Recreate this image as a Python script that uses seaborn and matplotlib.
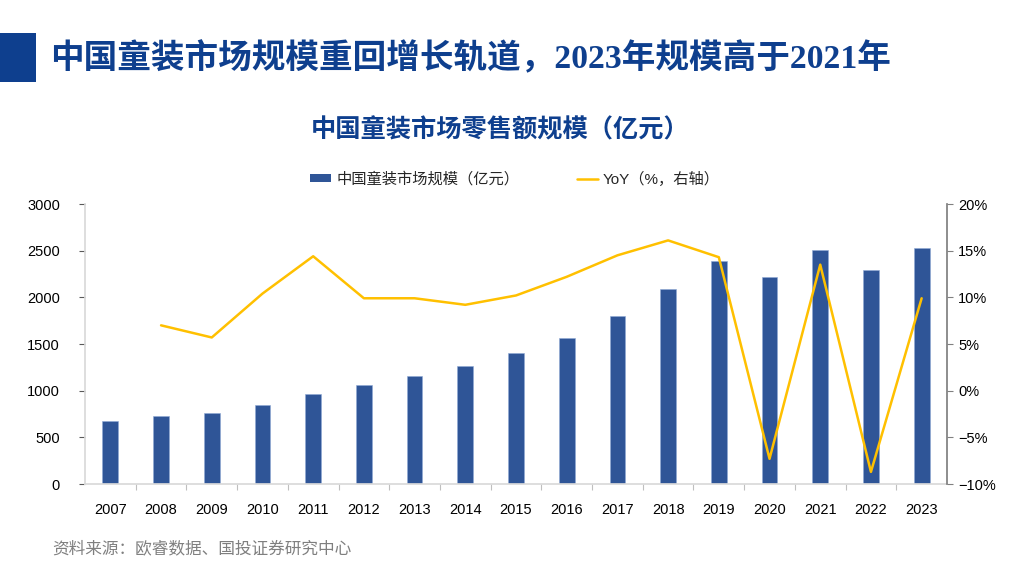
import numpy as np
import pandas as pd
import matplotlib
matplotlib.use("Agg")
import matplotlib.pyplot as plt
from matplotlib.patches import Rectangle, Patch
from matplotlib.lines import Line2D
from matplotlib.ticker import FuncFormatter, FixedLocator
import seaborn as sns

# ---- data ----
years = ["2007", "2008", "2009", "2010", "2011", "2012", "2013", "2014", "2015",
         "2016", "2017", "2018", "2019", "2020", "2021", "2022", "2023"]
market_size = [678, 725, 760, 843, 967, 1060, 1162, 1265, 1403,
               1566, 1800, 2090, 2390, 2215, 2510, 2296, 2525]
yoy = [np.nan, 7.0, 5.7, 10.4, 14.4, 9.9, 9.9, 9.2, 10.2,
       12.2, 14.5, 16.1, 14.3, -7.3, 13.5, -8.7, 9.9]
left_ticks = [0, 500, 1000, 1500, 2000, 2500, 3000]
right_ticks = [-10, -5, 0, 5, 10, 15, 20]

main_title = "中国童装市场规模重回增长轨道，2023年规模高于2021年"
chart_title = "中国童装市场零售额规模（亿元）"
bar_label = "中国童装市场规模（亿元）"
line_label = "YoY（%，右轴）"
source = "资料来源：欧睿数据、国投证券研究中心"

BAR_C = "#2F5597"
LINE_C = "#FFC000"
TITLE_C = "#0E3F8E"

sns.set_theme(style="white")
plt.rcParams["font.family"] = ["Liberation Sans", "Noto Sans CJK SC", "DejaVu Sans"]
plt.rcParams["axes.unicode_minus"] = True

df = pd.DataFrame({"year": years, "size": market_size, "yoy": yoy})
df["pos"] = np.arange(len(years))

fig = plt.figure(figsize=(10.24, 5.76), dpi=100)
ax = fig.add_axes([85 / 1024, 92 / 576, 862 / 1024, 280 / 576])

sns.barplot(data=df, x="year", y="size", color=BAR_C, width=0.31,
            saturation=1, ax=ax, edgecolor="#8FA9D6", linewidth=0.4)
ax.set_xlim(-0.5, len(years) - 0.5)
ax.set_ylim(0, 3000)
ax.set_yticks(left_ticks)
ax.set_xlabel("")
ax.set_ylabel("")

ax2 = ax.twinx()
sns.lineplot(data=df.dropna(), x="pos", y="yoy", color=LINE_C, linewidth=1.8,
             ax=ax2, legend=False)
ax2.set_ylim(-10, 20)
ax2.set_yticks(right_ticks)
ax2.yaxis.set_major_formatter(FuncFormatter(lambda v, p: f"{int(v)}%".replace("-", "\u2212")))
ax2.set_xlim(-0.5, len(years) - 0.5)
ax2.set_ylabel("")
ax2.set_xlabel("")

# spines and ticks
for a in (ax, ax2):
    a.spines["top"].set_visible(False)
ax.spines["left"].set_color("#D9D9D9")
ax.spines["bottom"].set_color("#D9D9D9")
ax.spines["right"].set_visible(False)
ax2.spines["left"].set_visible(False)
ax2.spines["bottom"].set_visible(False)
ax2.spines["right"].set_color("#808080")

ax.tick_params(axis="y", which="major", left=True, length=4, width=0.8, color="#595959",
               labelsize=10.5, labelcolor="black", pad=14)
ax.tick_params(axis="x", which="major", bottom=False, labelsize=10.5, labelcolor="black", pad=8)
ax.xaxis.set_minor_locator(FixedLocator(np.arange(0.5, len(years) - 1, 1.0)))
ax.tick_params(axis="x", which="minor", bottom=True, length=4, width=0.8, color="#BFBFBF")
ax2.tick_params(axis="y", right=True, length=4, width=0.8, color="#808080",
                labelsize=10.5, labelcolor="black", pad=4)
ax.grid(False)
ax2.grid(False)

# legend
handles = [Patch(facecolor=BAR_C, edgecolor="none"),
           Line2D([0], [0], color=LINE_C, linewidth=1.8)]
fig.legend(handles, [bar_label, line_label], loc="center", ncol=2,
           bbox_to_anchor=(0.503, 1 - 179 / 576), frameon=False, fontsize=11,
           handlelength=1.4, handleheight=0.5, handletextpad=0.3, columnspacing=3.8)

# header block and titles
fig.patches.append(Rectangle((0, 1 - 82 / 576), 36 / 1024, 49 / 576,
                             transform=fig.transFigure, facecolor=TITLE_C,
                             edgecolor="none"))
fig.text(50 / 1024, 1 - 58 / 576, main_title, fontsize=24.2, fontweight="bold",
         color=TITLE_C, va="center", ha="left",
         family=["Liberation Serif", "Noto Sans CJK SC"])
fig.text(500 / 1024, 1 - 130 / 576, chart_title, fontsize=18.2, fontweight="bold",
         color=TITLE_C, va="center", ha="center",
         family=["Noto Sans CJK SC", "DejaVu Sans"])
fig.text(52 / 1024, 1 - 549 / 576, source, fontsize=12, color="#7F7F7F",
         va="center", ha="left", family=["Noto Sans CJK SC", "DejaVu Sans"])

fig.savefig("out.png", dpi=100)
